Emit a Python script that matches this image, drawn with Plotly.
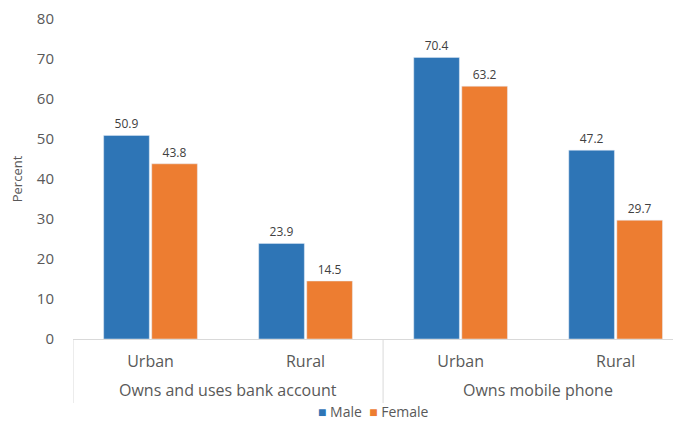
import plotly.graph_objects as go

groups = ["Owns and uses bank account", "Owns mobile phone"]
areas = ["Urban", "Rural", "Urban", "Rural"]
male = [50.9, 23.9, 70.4, 47.2]
female = [43.8, 14.5, 63.2, 29.7]

MALE_COLOUR = "#2E75B6"
FEMALE_COLOUR = "#ED7D31"
TEXT_COLOUR = "#595959"
LINE_COLOUR = "#d9d9d9"
FONT = "Open Sans"

pos = list(range(len(areas)))

fig = go.Figure()
fig.add_trace(go.Bar(
    name="Male", x=pos, y=male, marker_color=MALE_COLOUR,
    text=[f"{v:.1f}" for v in male], textposition="outside",
    textfont=dict(size=12, color="#404040"), cliponaxis=False,
))
fig.add_trace(go.Bar(
    name="Female", x=pos, y=female, marker_color=FEMALE_COLOUR,
    text=[f"{v:.1f}" for v in female], textposition="outside",
    textfont=dict(size=12, color="#404040"), cliponaxis=False,
))

# group labels and dividers under the axis
for i, g in enumerate(groups):
    fig.add_annotation(x=2 * i + 0.5, y=-0.16, xref="x", yref="paper",
                       text=g, showarrow=False, yanchor="middle",
                       font=dict(size=16, color=TEXT_COLOUR))
for xd in [-0.5, 1.5, 3.5]:
    fig.add_shape(type="line", xref="x", yref="paper", x0=xd, x1=xd, y0=0, y1=-0.2,
                  line=dict(color=LINE_COLOUR, width=1))

# legend drawn as text
fig.add_annotation(
    x=0.5, y=-0.227, xref="paper", yref="paper", showarrow=False, yanchor="middle",
    text=f"<span style='color:{MALE_COLOUR}'>■</span> Male  "
         f"<span style='color:{FEMALE_COLOUR}'>■</span> Female",
    font=dict(size=14, color=TEXT_COLOUR),
)

# page body keeps an 8px margin, so the figure is 16px smaller than the window
fig.update_layout(
    width=665, height=415,
    barmode="group", bargap=0.38, bargroupgap=0.05,
    plot_bgcolor="white", paper_bgcolor="white",
    font=dict(family=FONT, size=14, color=TEXT_COLOUR),
    margin=dict(l=65, r=0, t=11, b=84),
    showlegend=False,
    xaxis=dict(
        range=[-0.5, 3.37], tickvals=pos, ticktext=areas,
        showline=True, linecolor=LINE_COLOUR, linewidth=1,
        ticks="outside", ticklen=8, tickcolor="rgba(0,0,0,0)",
        showgrid=False, zeroline=False,
        tickfont=dict(size=16, color=TEXT_COLOUR),
        automargin=False,
    ),
    yaxis=dict(
        range=[0, 80], dtick=10, showgrid=False, zeroline=False,
        ticklabelstandoff=18,
        title=dict(text="Percent", font=dict(size=13, color=TEXT_COLOUR), standoff=19),
        tickfont=dict(size=15, color=TEXT_COLOUR),
        automargin=False,
    ),
)

fig.write_html("out.html")
